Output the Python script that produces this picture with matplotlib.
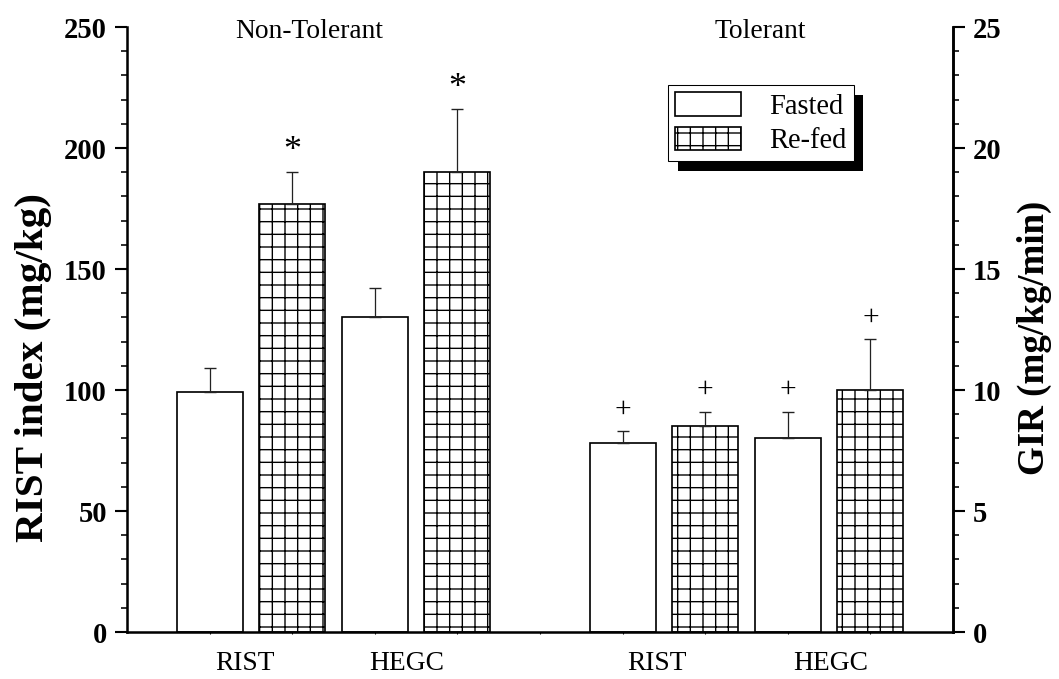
import matplotlib.pyplot as plt
import matplotlib.patheffects as pe
from matplotlib.patches import Patch
import numpy as np

plt.rcParams['font.family'] = ['Liberation Serif', 'DejaVu Serif']
plt.rcParams['hatch.linewidth'] = 1.3
plt.rcParams['hatch.color'] = 'black'

# data: order is Non-Tolerant RIST, Non-Tolerant HEGC, Tolerant RIST, Tolerant HEGC
groups = ['Non-Tolerant', 'Tolerant']
tests = ['RIST', 'HEGC', 'RIST', 'HEGC']
fasted = [99, 130, 78, 80]
fasted_err = [10, 12, 5, 11]
refed = [177, 190, 85, 100]
refed_err = [13, 26, 6, 21]
fasted_marks = ['', '', '+', '+']
refed_marks = ['*', '*', '+', '+']

# dpi 76 -> hatch cell about 12.7 px like the original
fig = plt.figure(figsize=(1059 / 76, 679 / 76), dpi=76)
ax = fig.add_axes([0.1199, 0.0692, 0.78, 0.8910])

base = np.array([0, 2, 5, 7])
xf = base
xr = base + 1
w = 0.8
label_pos = [0.43, 2.39, 5.42, 7.52]

ax.bar(xf, fasted, w, color='white', edgecolor='black', linewidth=1.6, zorder=2)
ax.bar(xr, refed, w, color='white', edgecolor='black', linewidth=1.6, hatch='+', zorder=2)

zeros = np.zeros(4)
ax.errorbar(xf, fasted, yerr=[zeros, fasted_err], fmt='none', ecolor='#222222',
            elinewidth=1.2, capsize=5.5, capthick=1.3, zorder=3)
ax.errorbar(xr, refed, yerr=[zeros, refed_err], fmt='none', ecolor='#222222',
            elinewidth=1.2, capsize=5.5, capthick=1.3, zorder=3)

def mark(x, top, m):
    if m == '*':
        ax.text(x, top + 8.5, m, ha='center', va='center', fontsize=34)
    elif m:
        ax.text(x, top + 9, m, ha='center', va='center', fontsize=28)

for x, v, e, m in zip(xf, fasted, fasted_err, fasted_marks):
    mark(x, v + e, m)
for x, v, e, m in zip(xr, refed, refed_err, refed_marks):
    mark(x, v + e, m)

ax.set_xlim(-1, 9)
ax.set_ylim(0, 250)
ax.set_xticks(label_pos)
ax.set_xticklabels(tests, fontsize=26)
ax.set_xticks(np.arange(0, 9), minor=True)
ax.tick_params(axis='x', which='major', length=0, pad=18)
ax.tick_params(axis='x', which='minor', length=2, width=1)

ax.set_yticks(np.arange(0, 251, 50))
ax.set_yticks(np.arange(0, 251, 10), minor=True)
ax.tick_params(axis='y', which='major', length=11, width=2, labelsize=27, pad=8)
ax.tick_params(axis='y', which='minor', length=6, width=1.5)
for lab in ax.get_yticklabels():
    lab.set_fontweight('bold')

ax.spines['top'].set_visible(False)
for s in ['left', 'right', 'bottom']:
    ax.spines[s].set_linewidth(2.4)

ax.set_ylabel('RIST index (mg/kg)', fontsize=39, fontweight='bold')
ax.yaxis.set_label_coords(-0.091, 0.437)

ax2 = ax.twinx()
ax2.set_ylim(0, 25)
ax2.set_yticks(np.arange(0, 26, 5))
ax2.set_yticks(np.arange(0, 26, 1), minor=True)
ax2.tick_params(axis='y', which='major', length=11, width=2, labelsize=27, pad=8)
ax2.tick_params(axis='y', which='minor', length=6, width=1.5)
for lab in ax2.get_yticklabels():
    lab.set_fontweight('bold')
ax2.spines['top'].set_visible(False)
ax2.spines['right'].set_linewidth(2.4)
ax2.set_ylabel('GIR (mg/kg/min)', fontsize=35, fontweight='bold', rotation=90)
ax2.yaxis.set_label_coords(1.077, 0.486)

# group titles
ax.text(1.2, 248, groups[0], ha='center', va='center', fontsize=26)
ax.text(6.67, 248, groups[1], ha='center', va='center', fontsize=26)

handles = [Patch(facecolor='white', edgecolor='black', linewidth=1.6),
           Patch(facecolor='white', edgecolor='black', linewidth=1.6, hatch='+')]
leg = ax.legend(handles, ['Fasted', 'Re-fed'], loc='upper left',
                bbox_to_anchor=(0.655, 0.904), borderaxespad=0, fontsize=27,
                fancybox=False, framealpha=1, edgecolor='black',
                handlelength=2.3, handleheight=0.88, handletextpad=1.0,
                labelspacing=0.25, borderpad=0.25)
leg.get_frame().set_linewidth(1.0)
leg.get_frame().set_path_effects([
    pe.SimplePatchShadow(offset=(9, -9), shadow_rgbFace='black', alpha=1),
    pe.Normal()])

fig.savefig('out.png', dpi=76)
